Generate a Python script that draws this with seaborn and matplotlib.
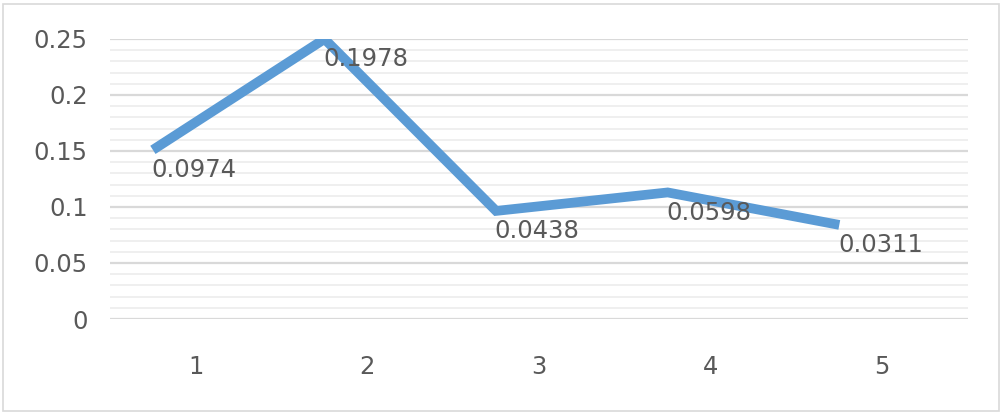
import numpy as np
import pandas as pd
import seaborn as sns
import matplotlib.pyplot as plt
from matplotlib.patches import Rectangle
from matplotlib.ticker import MultipleLocator, FuncFormatter

# data
categories = ["1", "2", "3", "4", "5"]
line_values = [0.151, 0.250, 0.0965, 0.113, 0.084]
point_labels = ["0.0974", "0.1978", "0.0438", "0.0598", "0.0311"]

sns.set_style("white")
plt.rcParams["font.family"] = ["DejaVu Sans"]

text_color = "#595959"
line_color = "#5B9BD5"
shift = -0.25  # line is drawn a quarter category left of the tick labels

df = pd.DataFrame({"pos": np.arange(len(categories)) + shift, "value": line_values})

fig = plt.figure(figsize=(10.04, 4.15), dpi=100)
ax = fig.add_axes([110 / 1004, (415 - 319) / 415, (968 - 110) / 1004, (319 - 39) / 415])

sns.lineplot(data=df, x="pos", y="value", color=line_color, linewidth=7, ax=ax,
             solid_capstyle="butt", solid_joinstyle="miter", zorder=3)

for x, y, lab in zip(df["pos"], df["value"], point_labels):
    ax.annotate(lab, (x, y), xytext=(-1, -6), textcoords="offset points",
                ha="left", va="top", fontsize=17.5, color=text_color, zorder=4)

ax.set_xlim(-0.5, len(categories) - 0.5)
ax.set_ylim(0, 0.25)
ax.set_xticks(np.arange(len(categories)))
ax.set_xticklabels(categories)
ax.yaxis.set_major_locator(MultipleLocator(0.05))
ax.yaxis.set_minor_locator(MultipleLocator(0.01))
ax.yaxis.set_major_formatter(FuncFormatter(lambda v, p: f"{round(v, 2):g}"))
ax.grid(axis="y", which="major", color="#d9d9d9", linewidth=1.6, zorder=0)
ax.grid(axis="y", which="minor", color="#efefef", linewidth=1.4, zorder=0)
ax.tick_params(axis="x", length=0, pad=26, labelsize=17.5, labelcolor=text_color)
ax.tick_params(axis="y", which="both", length=0, pad=16, labelsize=17.5, labelcolor=text_color)
ax.set_xlabel("")
ax.set_ylabel("")
for s in ax.spines.values():
    s.set_visible(False)

fig.patches.append(Rectangle((3 / 1004, 4 / 415), 996 / 1004, 407 / 415, transform=fig.transFigure,
                             fill=False, edgecolor="#d9d9d9", linewidth=1.2))

fig.savefig("out.png", dpi=100)
